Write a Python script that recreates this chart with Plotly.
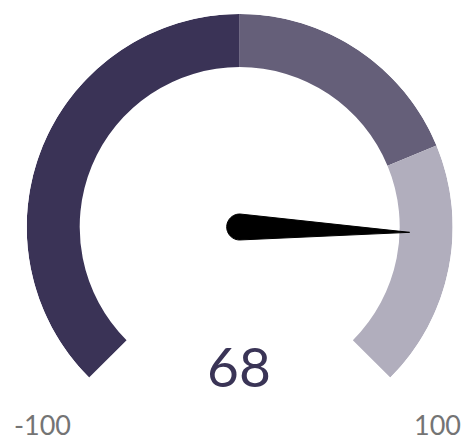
import plotly.graph_objects as go
import numpy as np

# ---- data ----
band_starts = [-100, 0, 50]
band_ends = [0, 50, 100]
band_colors = ["#3a3356", "#655f79", "#b1aebd"]
value = 68
min_label = "-100"
max_label = "100"

DEG_PER_UNIT = 1.35  # 270 degree sweep for 200 units
R_IN, R_OUT = 160, 213

W, H = 466, 440


def px(x):
    return x / W


def py(y):
    return 1 - y / H


fig = go.Figure()

# gauge bands
fig.add_trace(go.Barpolar(
    theta=[(s + e) / 2 * DEG_PER_UNIT for s, e in zip(band_starts, band_ends)],
    width=[(e - s) * DEG_PER_UNIT for s, e in zip(band_starts, band_ends)],
    r=[R_OUT - R_IN] * len(band_starts),
    base=[R_IN] * len(band_starts),
    marker=dict(color=band_colors, line=dict(width=0)),
    hoverinfo="skip", showlegend=False,
))

# needle
th = value * DEG_PER_UNIT
hub = 13
back = np.linspace(90, 270, 25)
n_theta = [th] + list(th + back) + [th]
n_r = [170] + [hub] * len(back) + [170]
fig.add_trace(go.Scatterpolar(
    theta=n_theta, r=n_r, mode="lines", fill="toself",
    fillcolor="black", line=dict(color="black", width=1),
    hoverinfo="skip", showlegend=False,
))

fig.update_layout(
    width=W, height=H,
    margin=dict(l=0, r=0, t=0, b=0),
    paper_bgcolor="white",
    polar=dict(
        domain=dict(x=[px(26.7), px(452.7)], y=[py(440), py(14)]),
        bgcolor="white",
        radialaxis=dict(range=[0, R_OUT], visible=False, showgrid=False),
        angularaxis=dict(rotation=90, direction="clockwise", visible=False,
                         showgrid=False, thetaunit="degrees"),
    ),
    annotations=[
        dict(text=str(value), x=px(239), y=py(366), xref="paper", yref="paper",
             showarrow=False, font=dict(family="Lato", size=55, color="#3a3456"),
             xanchor="center", yanchor="middle"),
        dict(text=min_label, x=px(12), y=py(424), xref="paper", yref="paper",
             showarrow=False, font=dict(family="Lato", size=27, color="#747474"),
             xanchor="left", yanchor="middle"),
        dict(text=max_label, x=px(463), y=py(424), xref="paper", yref="paper",
             showarrow=False, font=dict(family="Lato", size=27, color="#747474"),
             xanchor="right", yanchor="middle"),
    ],
)

fig.write_html("out.html", config={"displayModeBar": False, "staticPlot": True})

# remove the default page margin so the figure fills the window exactly
with open("out.html", "r", encoding="utf-8") as f:
    html = f.read()
html = html.replace("<head>", "<head><style>html,body{margin:0;padding:0;overflow:hidden}</style>", 1)
with open("out.html", "w", encoding="utf-8") as f:
    f.write(html)
